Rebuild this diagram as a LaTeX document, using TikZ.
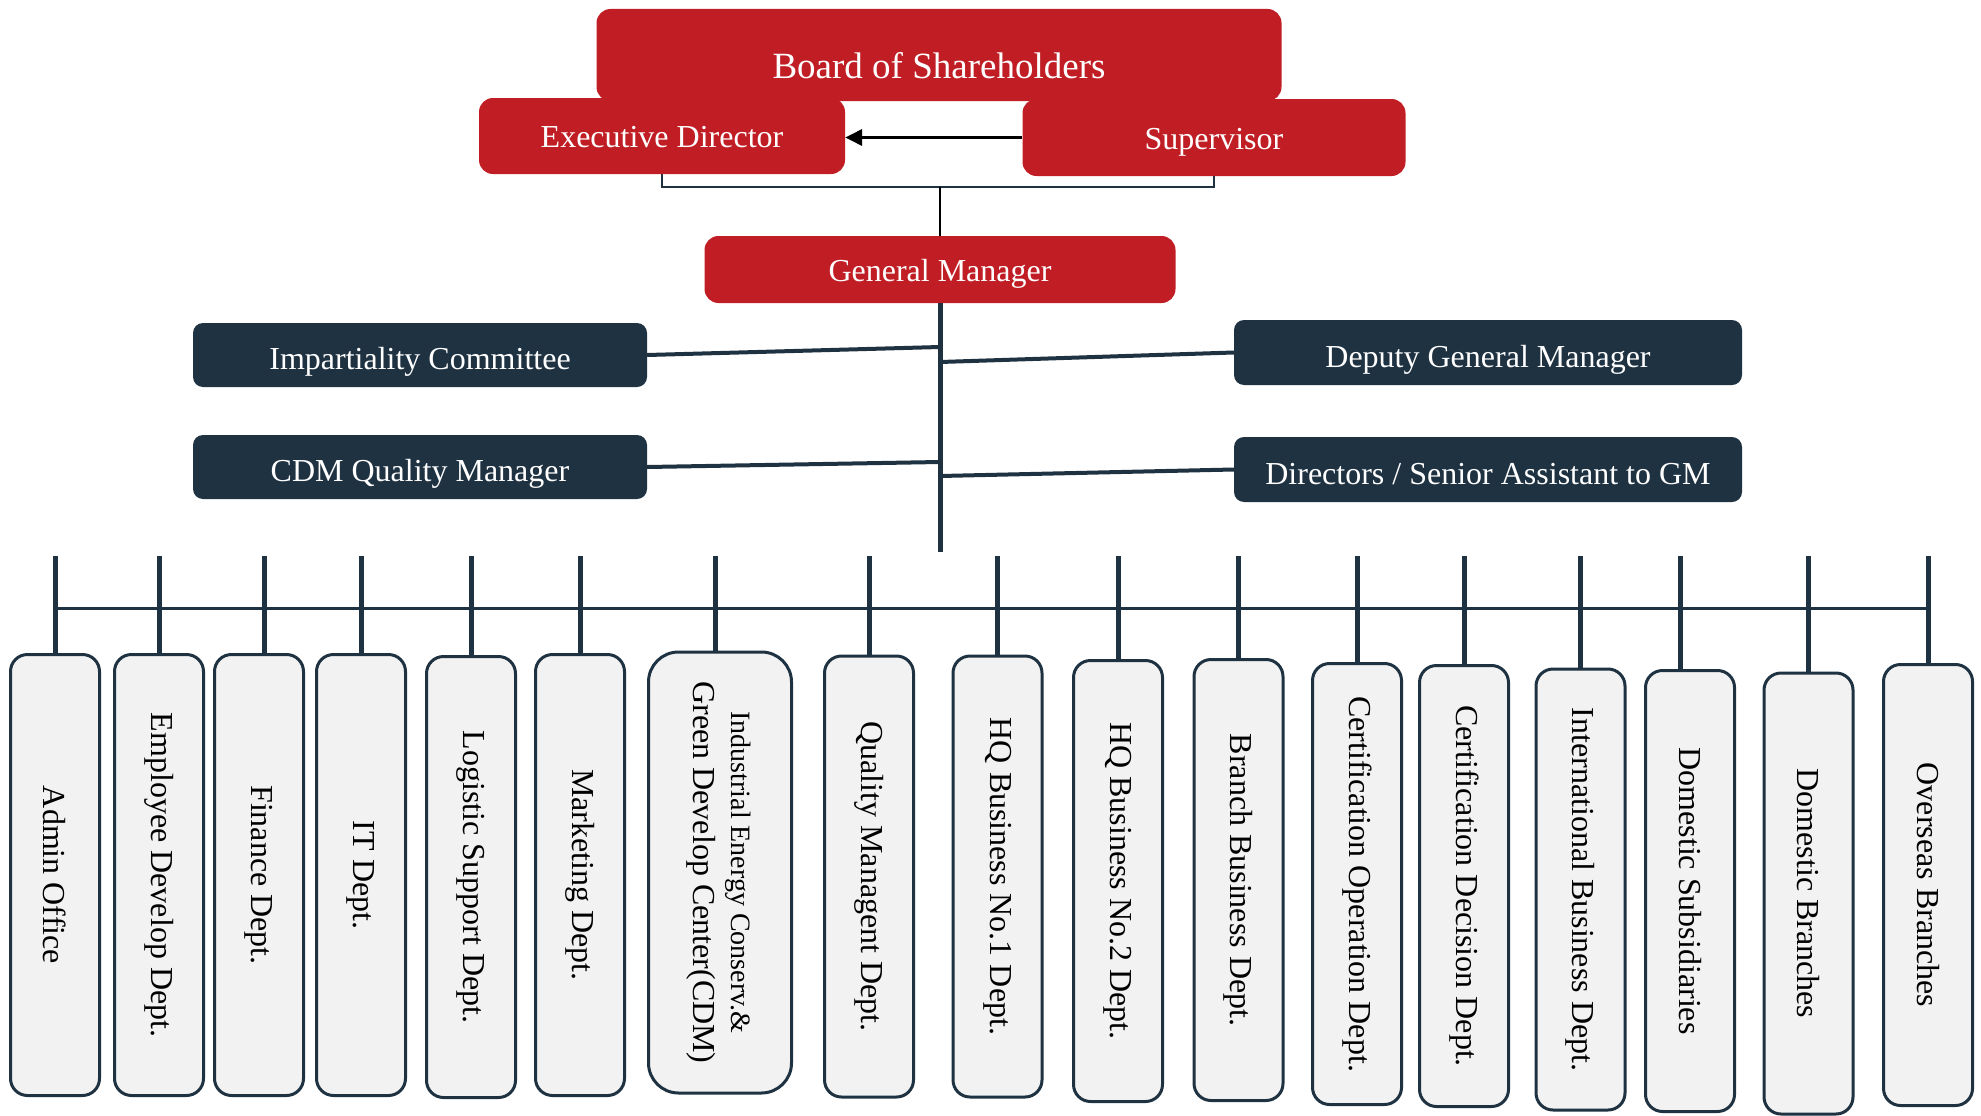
\documentclass[tikz,border=0pt]{standalone}
\usepackage{fontspec}
\usepackage{graphicx}
\setmainfont{Liberation Serif}
\usetikzlibrary{arrows.meta,calc}
\definecolor{boardred}{HTML}{C01E24}
\definecolor{navy}{HTML}{1F3242}
\definecolor{deptgray}{HTML}{F2F2F2}
\newcommand{\vtext}[1]{\rotatebox{-90}{#1}}

\begin{document}
\begin{tikzpicture}[
  x=1pt,y=-1pt,
  every node/.style={font=\fontsize{32}{38}\selectfont},
  redbox/.style={fill=boardred,text=white,rounded corners=14pt,inner sep=0pt,text height=23pt,text depth=0pt},
  navybox/.style={fill=navy,text=white,rounded corners=10pt,inner sep=0pt,text height=29pt,text depth=0pt},
  deptbox/.style={draw=navy,fill=deptgray,line width=3pt,rounded corners=17pt,minimum width=89pt,minimum height=441pt,inner sep=0pt},
  link/.style={navy,line width=4pt},
  drop/.style={navy,line width=5pt},
  bus/.style={navy,line width=3pt},
  bracket/.style={navy,line width=2.5pt}
]
  \useasboundingbox (0,0) rectangle (1981,1116);

  \node[redbox,minimum width=685pt,minimum height=92pt,font=\fontsize{37}{44}\selectfont,text height=46pt] (board) at (939,55) {Board of Shareholders};
  \node[redbox,minimum width=366pt,minimum height=76pt] (ed) at (662,136) {Executive Director};
  \node[redbox,minimum width=383pt,minimum height=77pt] (sup) at (1214,137.5) {Supervisor};
  \node[redbox,minimum width=471pt,minimum height=67pt] (gm) at (940,269.5) {General Manager};

  \node[navybox,minimum width=454pt,minimum height=64pt] (imp) at (420,355) {Impartiality Committee};
  \node[navybox,minimum width=454pt,minimum height=64pt] (cdmqm) at (420,467) {CDM Quality Manager};
  \node[navybox,minimum width=508pt,minimum height=65pt] (dgm) at (1488,352.5) {Deputy General Manager};
  \node[navybox,minimum width=508pt,minimum height=65pt] (dir) at (1488,469.5) {Directors / Senior Assistant to GM};

  \node[deptbox] (admin) at (55,875) {\vtext{Admin Office}};
  \node[deptbox] (empdev) at (159,875) {\vtext{Employee Develop Dept.}};
  \node[deptbox] (fin) at (259,875) {\vtext{Finance Dept.}};
  \node[deptbox] (it) at (361,875) {\vtext{IT Dept.}};
  \node[deptbox] (logi) at (471,877) {\vtext{Logistic Support Dept.}};
  \node[deptbox] (mkt) at (580,875) {\vtext{Marketing Dept.}};
  \node[deptbox,minimum width=143pt,rounded corners=30pt] (cdm) at (720,872.5) {\vtext{\begin{tabular}{@{}c@{}}{\fontsize{28}{40}\selectfont Industrial Energy Conserv.\&}\\Green Develop Center(CDM)\end{tabular}}};
  \node[deptbox] (qual) at (869,876.5) {\vtext{Quality Managent Dept.}};
  \node[deptbox] (hqa) at (997.5,876.5) {\vtext{HQ Business No.1 Dept.}};
  \node[deptbox] (hqb) at (1118,881) {\vtext{HQ Business No.2 Dept.}};
  \node[deptbox] (branch) at (1238.5,880) {\vtext{Branch Business Dept.}};
  \node[deptbox] (certop) at (1357,884) {\vtext{Certification Operation Dept.}};
  \node[deptbox] (certdec) at (1464,886) {\vtext{Certification Decision Dept.}};
  \node[deptbox] (intl) at (1580.5,889.5) {\vtext{International Business Dept.}};
  \node[deptbox] (domsub) at (1690,891) {\vtext{Domestic Subsidiaries}};
  \node[deptbox] (dombr) at (1808.5,893.5) {\vtext{Domestic Branches}};
  \node[deptbox] (over) at (1928,885) {\vtext{Overseas Branches}};

  \coordinate (brk) at (940,187);
  \coordinate (trunkend) at (0,552);
  \coordinate (t1) at (940,347);
  \coordinate (t2) at (940,362);
  \coordinate (t3) at (940,462);
  \coordinate (t4) at (940,476);
  \coordinate (tick) at (0,556);
  \coordinate (busline) at (0,608);

  \draw[-{Triangle[length=17pt,width=16pt]},line width=3.5pt] (sup.west) -- (sup.west -| ed.east);
  \draw[bracket] (ed.south) |- (brk) -| (sup.south);
  \draw[line width=2pt] (brk) -- (gm.north);

  \draw[drop] (gm.south) -- (gm.south |- trunkend);
  \draw[link] (imp.east) -- (t1);
  \draw[link] (t2) -- (dgm.west);
  \draw[link] (cdmqm.east) -- (t3);
  \draw[link] (t4) -- (dir.west);

  \draw[bus] (admin.north |- busline) -- (over.north |- busline);
  \draw[drop] (admin.north) -- (admin.north |- tick)
    (empdev.north) -- (empdev.north |- tick)
    ($(fin.north)+(5,0)$) -- ($(fin.north |- tick)+(5,0)$)
    (it.north) -- (it.north |- tick)
    (logi.north) -- (logi.north |- tick)
    (mkt.north) -- (mkt.north |- tick)
    ($(cdm.north)+(-5,0)$) -- ($(cdm.north |- tick)+(-5,0)$)
    (qual.north) -- (qual.north |- tick)
    (hqa.north) -- (hqa.north |- tick)
    (hqb.north) -- (hqb.north |- tick)
    (branch.north) -- (branch.north |- tick)
    (certop.north) -- (certop.north |- tick)
    (certdec.north) -- (certdec.north |- tick)
    (intl.north) -- (intl.north |- tick)
    ($(domsub.north)+(-10,0)$) -- ($(domsub.north |- tick)+(-10,0)$)
    (dombr.north) -- (dombr.north |- tick)
    (over.north) -- (over.north |- tick);
\end{tikzpicture}
\end{document}
